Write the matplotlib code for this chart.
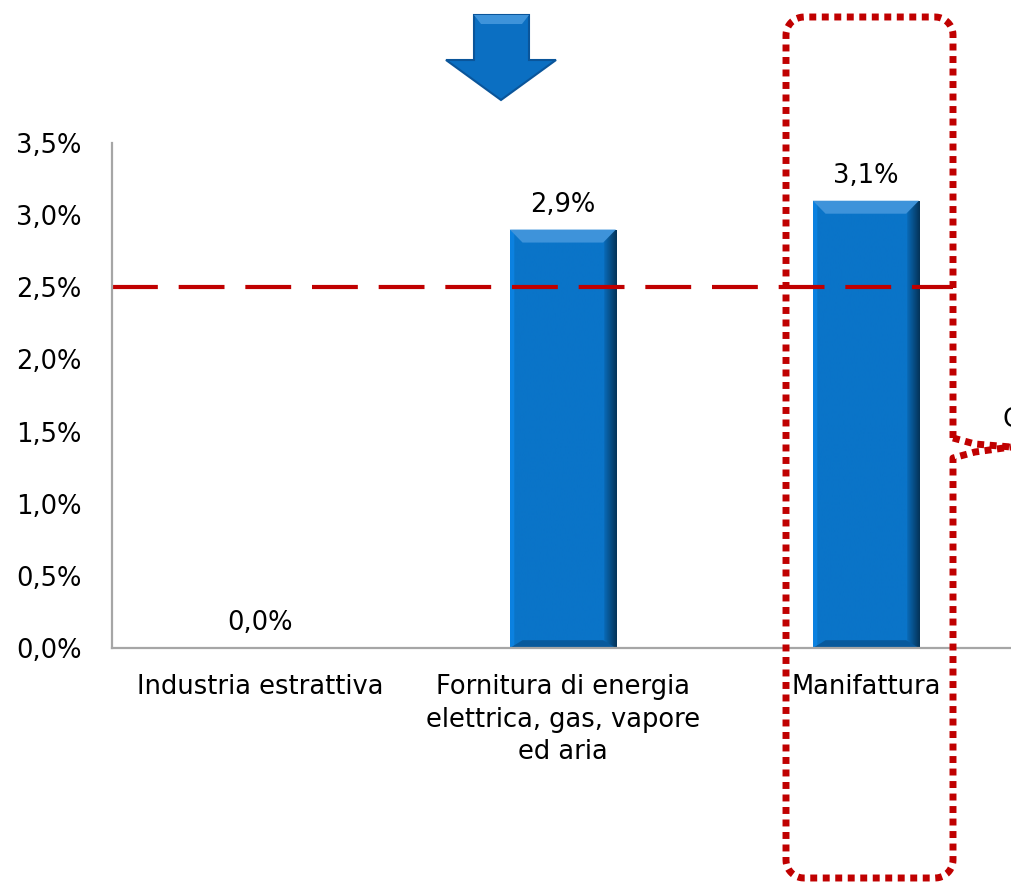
import matplotlib.pyplot as plt
from matplotlib.lines import Line2D
from matplotlib.patches import Polygon
from matplotlib.colors import to_rgb
import numpy as np

categories = ["Industria estrattiva",
              "Fornitura di energia\nelettrica, gas, vapore\ned aria",
              "Manifattura"]
values = [0.0, 2.9, 3.1]
reference_level = 2.5
yticks = [0.0, 0.5, 1.0, 1.5, 2.0, 2.5, 3.0, 3.5]

W, H = 1011, 885
RED = "#C00000"
BLUE = "#0A74C8"
FS = 18.5


def fmt(v):
    return "{:.1f}%".format(v).replace(".", ",")


def px(x, y):
    # pixel coords (top-left origin) -> figure fraction
    return x / W, 1 - y / H


fig = plt.figure(figsize=(W / 100, H / 100), dpi=100)
ax = fig.add_axes([112 / W, 237 / H, 899 / W, 505 / H])

xpos = np.arange(len(categories))
bars = ax.bar(xpos, values, width=0.35, color=BLUE, edgecolor="none",
              zorder=2)

# bevelled look: horizontal gradient clipped to each bar + lighter top band
base = np.array(to_rgb(BLUE))
prof = np.ones(100)
prof[:4] = 1.12
prof[88:] = np.linspace(0.9, 0.45, 12)
grad = np.clip(base[None, :] * prof[:, None], 0, 1)[None, :, :]
for b, v in zip(bars, values):
    if v <= 0:
        continue
    x0, w = b.get_x(), b.get_width()
    im = ax.imshow(grad, extent=(x0, x0 + w, 0, v), aspect="auto", zorder=2.1,
                   interpolation="bilinear")
    im.set_clip_path(b)
    dx, dy = w * 0.12, 0.09
    ax.add_patch(Polygon([(x0, v), (x0 + w, v), (x0 + w - dx, v - dy),
                          (x0 + dx, v - dy)], closed=True,
                         facecolor="#3E93DA", edgecolor="none", zorder=2.2))
    ax.add_patch(Polygon([(x0, 0), (x0 + w, 0), (x0 + w - dx, dy * 0.6),
                          (x0 + dx, dy * 0.6)], closed=True,
                         facecolor="#08599C", edgecolor="none", zorder=2.2))

for b, v in zip(bars, values):
    ax.annotate(fmt(v), (b.get_x() + b.get_width() / 2, v), xytext=(0, 8.5),
                textcoords="offset points", ha="center", va="bottom",
                fontsize=FS)

ax.set_xlim(-0.488, 2.479)
ax.set_ylim(0, 3.5)
ax.set_yticks(yticks)
ax.set_yticklabels([fmt(t) for t in yticks], fontsize=FS)
ax.set_xticks(xpos)
ax.set_xticklabels(categories, fontsize=FS, linespacing=1.31, va="top")
ax.tick_params(axis="both", length=0)
ax.tick_params(axis="y", pad=22)
ax.tick_params(axis="x", pad=19)
for s in ["top", "right"]:
    ax.spines[s].set_visible(False)
for s in ["left", "bottom"]:
    ax.spines[s].set_color("#A6A6A6")
    ax.spines[s].set_linewidth(1.6)
    ax.spines[s].set_zorder(3)

# reference level dashed line (ends at the highlight box)
x_end = (953 - 260) / 303
ax.plot([-0.488, x_end], [reference_level, reference_level], color=RED,
        lw=3, dashes=(11, 5), zorder=3, dash_capstyle="butt")

# blue arrow above the second bar
arrow_px = [(474, 15), (529, 15), (529, 60), (556, 60), (501, 100),
            (446, 60), (474, 60)]
fig.patches.append(Polygon([px(*p) for p in arrow_px], closed=True,
                           transform=fig.transFigure, facecolor="#0B6FC2",
                           edgecolor="#0A559A", lw=1.5))
shaft_hi = [(474, 15), (529, 15), (522, 24), (481, 24)]
fig.patches.append(Polygon([px(*p) for p in shaft_hi], closed=True,
                           transform=fig.transFigure, facecolor="#3E93DA",
                           edgecolor="none"))

# dotted highlight box with a callout notch on the right
L, R, T, B, r = 786, 953, 17, 878, 18


def arc(cx, cy, a0, a1):
    t = np.radians(np.linspace(a0, a1, 12))
    return list(zip(cx + r * np.cos(t), cy - r * np.sin(t)))


dot = dict(transform=fig.transFigure, color=RED, lw=5,
           linestyle=(0, (1, 0.8)), dash_capstyle="butt")
pts = [(R, 438)]
pts += arc(R - r, T + r, 0, 90)
pts += arc(L + r, T + r, 90, 180)
pts += arc(L + r, B - r, 180, 270)
pts += arc(R - r, B - r, 270, 360)
pts += [(R, 458), (975, 452), (1011, 447)]
xs, ys = zip(*[px(x, y) for x, y in pts])
fig.lines.append(Line2D(xs, ys, **dot))
xs2, ys2 = zip(*[px(x, y) for x, y in [(R, 438), (975, 444), (1011, 447)]])
fig.lines.append(Line2D(xs2, ys2, **dot))

fig.text(*px(1003, 420), "C", fontsize=FS, ha="left", va="center")

fig.savefig("out.png", dpi=100)
